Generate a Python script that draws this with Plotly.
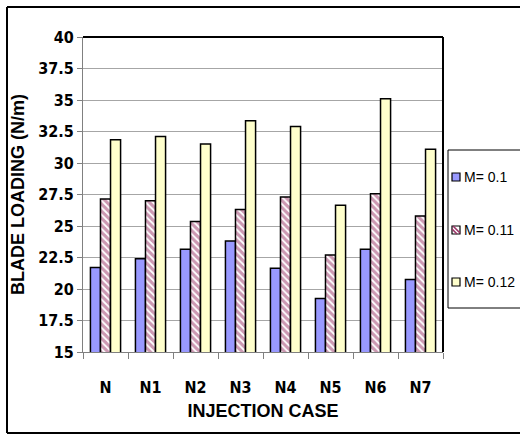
import plotly.graph_objects as go

cases = ["N", "N1", "N2", "N3", "N4", "N5", "N6", "N7"]
m_010 = [21.7, 22.4, 23.15, 23.8, 21.65, 19.25, 23.15, 20.75]
m_011 = [27.15, 27.0, 25.35, 26.3, 27.3, 22.7, 27.55, 25.8]
m_012 = [31.85, 32.1, 31.5, 33.35, 32.9, 26.65, 35.1, 31.1]
series_names = ["M= 0.1", "M= 0.11", "M= 0.12"]
y_ticks = [15, 17.5, 20, 22.5, 25, 27.5, 30, 32.5, 35, 37.5, 40]

narrow_bold = "Liberation Sans Narrow, Arial Narrow, DejaVu Sans Condensed, Arial, sans-serif"
arial = "Liberation Sans, Arial, sans-serif"

W, H = 520, 435
L, R, T, B = 83, 77, 37, 83
PW, PH = W - L - R, H - T - B


def px(x):
    # page pixel column -> paper coordinate
    return (x - L) / PW


def py(y):
    # page pixel row -> paper coordinate
    return (H - B - y) / PH


def seg(x0, y0, x1, y1, color="black", width=1.0):
    return dict(type="line", xref="paper", yref="paper",
                x0=px(x0), y0=py(y0), x1=px(x1), y1=py(y1),
                line=dict(color=color, width=width))


BLUE, PINK, YELLOW = "#9999FF", "#993366", "#FFFFCC"

fig = go.Figure()
fig.add_trace(go.Bar(
    x=cases, y=m_010, name=series_names[0],
    marker=dict(color=BLUE, line=dict(color="black", width=1.5)),
))
fig.add_trace(go.Bar(
    x=cases, y=m_011, name=series_names[1],
    marker=dict(color="white", line=dict(color="black", width=1.5),
                pattern=dict(shape="\\", fgcolor=PINK, bgcolor="white",
                             size=5, solidity=0.65)),
))
fig.add_trace(go.Bar(
    x=cases, y=m_012, name=series_names[2],
    marker=dict(color=YELLOW, line=dict(color="black", width=1.5)),
))

shapes = [
    # black top and right edges of the plot frame
    dict(type="line", xref="paper", yref="paper", x0=0, x1=1, y0=1, y1=1,
         line=dict(color="black", width=2)),
    dict(type="line", xref="paper", yref="paper", x0=1, x1=1, y0=0, y1=1,
         line=dict(color="black", width=2)),
    # chart border (runs off the right side of the page)
    seg(7, 7, 525, 7, width=2),
    seg(7, 7, 7, 433, width=2),
    seg(7, 433, 525, 433, width=2),
    # legend box (open to the right)
    seg(448, 150, 525, 150),
    seg(448, 150, 448, 308),
    seg(448, 308, 525, 308),
]

annotations = []
legend_rows = [177, 230, 282]
key_left, key_size = 452, 8
for name, row, fill in zip(series_names, legend_rows, [BLUE, "white", YELLOW]):
    shapes.append(dict(
        type="rect", xref="paper", yref="paper",
        x0=px(key_left), x1=px(key_left + key_size),
        y0=py(row + key_size / 2), y1=py(row - key_size / 2),
        fillcolor=fill, line=dict(color="black", width=1.2),
    ))
    if fill == "white":
        # hatched key for the striped series
        for off in (-3, 1):
            shapes.append(seg(key_left + max(0, off), row - key_size / 2 + max(0, -off),
                              key_left + key_size - max(0, -off), row + key_size / 2 - max(0, off),
                              color=PINK, width=1.6))
    annotations.append(dict(
        text=name, xref="paper", yref="paper", x=px(462), y=py(row),
        xanchor="left", yanchor="middle", showarrow=False,
        font=dict(family=arial, size=14, color="black"),
    ))

fig.update_layout(
    width=W, height=H,
    margin=dict(l=L, r=R, t=T, b=B, autoexpand=False),
    paper_bgcolor="white", plot_bgcolor="white",
    barmode="group", bargap=0.33, bargroupgap=0,
    showlegend=False,
    xaxis=dict(
        showline=True, linecolor="#808080", linewidth=1,
        ticks="outside", tickson="boundaries", ticklen=6, tickcolor="#808080",
        ticklabelstandoff=21,
        tickfont=dict(family=narrow_bold, size=16, color="black", weight="bold"),
        title=dict(text="<b>INJECTION CASE</b>", font=dict(family=arial, size=18, color="black"),
                   standoff=8),
    ),
    yaxis=dict(
        range=[15, 40], tickvals=y_ticks,
        ticktext=[f"<b>{v:g}</b>" for v in y_ticks],
        showline=True, linecolor="#808080", linewidth=1,
        ticks="outside", ticklen=5, tickcolor="#808080",
        showgrid=True, gridcolor="#A6A6A6", gridwidth=1,
        tickfont=dict(family=narrow_bold, size=16, color="black"),
        title=dict(text="<b>BLADE LOADING (N/m)</b>", font=dict(family=arial, size=18, color="black"),
                   standoff=8),
    ),
    shapes=shapes,
    annotations=annotations,
)

fig.write_html("out.html")
